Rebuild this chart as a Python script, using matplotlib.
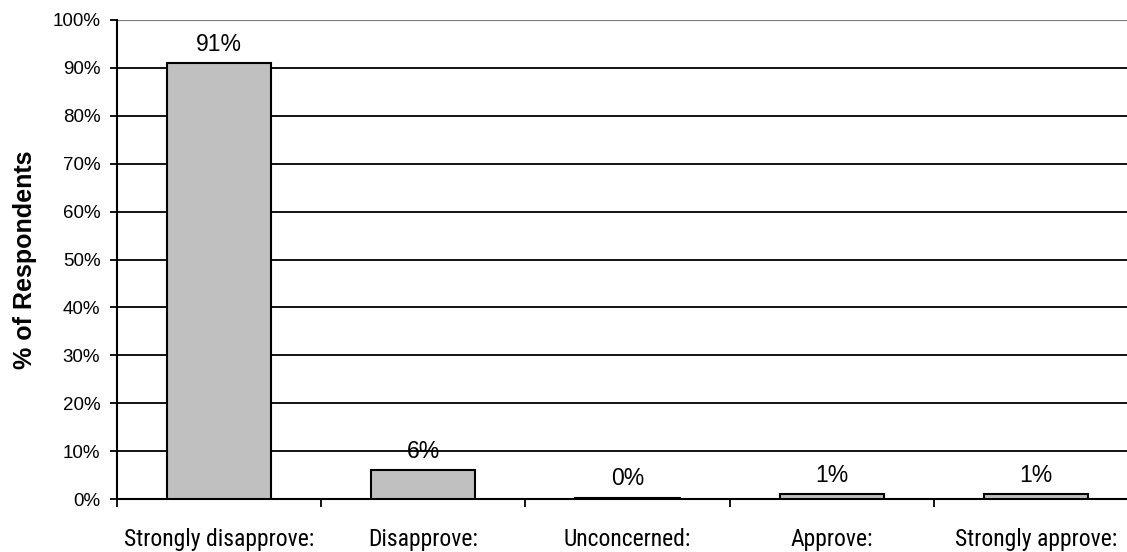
import matplotlib
matplotlib.use("Agg")
import matplotlib.pyplot as plt
import numpy as np

categories = ["Strongly disapprove:", "Disapprove:", "Unconcerned:", "Approve:", "Strongly approve:"]
percent = [91, 6, 0.3, 1, 1]
y_ticks = [0, 10, 20, 30, 40, 50, 60, 70, 80, 90, 100]

SANS = ["Liberation Sans", "DejaVu Sans"]
NARROW = ["Roboto Condensed", "Liberation Sans", "DejaVu Sans"]

fig = plt.figure(figsize=(11.27, 5.52), dpi=100)
W, H = 1127, 552
ax = fig.add_axes([117 / W, 53 / H, 1021 / W, 479 / H])

x = np.arange(len(categories))
ax.bar(x, percent, width=0.51, color="#c0c0c0", edgecolor="black", linewidth=1.5, zorder=5)

for xi, v in zip(x, percent):
    ax.annotate(f"{v:.0f}%", (xi, v), xytext=(0, 9), textcoords="offset points",
                ha="center", va="baseline", fontsize=16.5, family=SANS)

ax.set_xlim(-0.5, len(categories) - 0.5)
ax.set_ylim(0, 100)

# horizontal gridlines; the top one is lighter
for t in y_ticks[1:-1]:
    ax.axhline(t, color="black", lw=1.3, zorder=1)
ax.axhline(100, color="#808080", lw=1.6, zorder=1)

ax.set_yticks(y_ticks)
ax.set_yticklabels([f"{t}%" for t in y_ticks], family=SANS, fontsize=13.5)
ax.tick_params(axis="y", direction="out", length=5, width=1.3, pad=7)

ax.set_xticks(np.arange(-0.5, len(categories) - 0.5, 1.0))
ax.set_xticklabels([])
ax.set_xticks(x, minor=True)
ax.set_xticklabels(categories, minor=True, family=NARROW, fontsize=17)
ax.tick_params(axis="x", which="major", direction="out", length=6, width=1.3)
ax.tick_params(axis="x", which="minor", length=0, pad=21)

for side in ("top", "right"):
    ax.spines[side].set_visible(False)
for side in ("left", "bottom"):
    ax.spines[side].set_linewidth(1.5)
    ax.spines[side].set_zorder(4)

fig.text(25 / W, 1 - 260 / H, "% of Respondents", rotation=90, ha="center", va="center",
         family=SANS, fontsize=18, fontweight="bold")

fig.savefig("out.png", dpi=100)
